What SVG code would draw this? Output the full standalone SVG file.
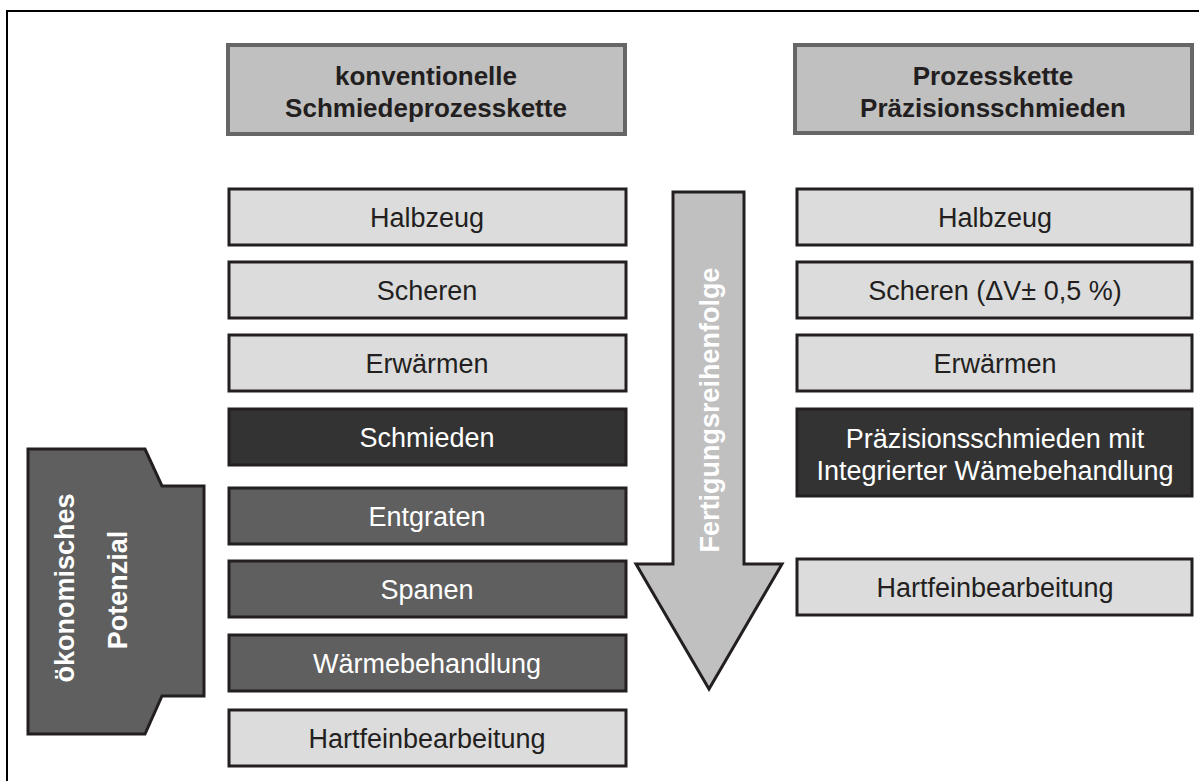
<svg xmlns="http://www.w3.org/2000/svg" width="1199" height="781" viewBox="0 0 1199 781">
<style>
text{font-family:"Liberation Sans",Arial,sans-serif;text-anchor:middle}
.hdr rect{fill:#c0c0c0;stroke:#666666;stroke-width:4}
.hdr text{font-size:26px;font-weight:bold;fill:#231f20}
.box rect{stroke:#231f20;stroke-width:3}
.light rect{fill:#dcdcdc}
.light text{fill:#231f20}
.dark rect{fill:#333333}
.mid rect{fill:#5f5f5f}
.dark text,.mid text{fill:#ffffff}
.box text{font-size:27px}
.vt{font-size:27px;font-weight:bold;fill:#ffffff}
</style>
<rect x="7" y="11" width="1205" height="790" fill="none" stroke="#000" stroke-width="2"/>
<g id="hdr-left" class="hdr"><rect x="228" y="45" width="397" height="89"/><text x="426" y="85">konventionelle</text><text x="426" y="117">Schmiedeprozesskette</text></g>
<g id="hdr-right" class="hdr"><rect x="795" y="45" width="397" height="88"/><text x="993" y="85">Prozesskette</text><text x="993" y="117">Präzisionsschmieden</text></g>
<g id="potential"><path d="M28,449 H145 L162,486 H204 V696 H162 L145,734 H28 Z" fill="#5f5f5f" stroke="#231f20" stroke-width="3"/>
<text class="vt" transform="translate(74,588) rotate(-90)">ökonomisches</text><text class="vt" transform="translate(127,590) rotate(-90)">Potenzial</text></g>
<g id="l1" class="box light"><rect x="229" y="189" width="397" height="56"/><text x="427" y="227">Halbzeug</text></g>
<g id="l2" class="box light"><rect x="229" y="262" width="397" height="56"/><text x="427" y="300">Scheren</text></g>
<g id="l3" class="box light"><rect x="229" y="335" width="397" height="56"/><text x="427" y="373">Erwärmen</text></g>
<g id="l4" class="box dark"><rect x="229" y="409" width="397" height="56"/><text x="427" y="447">Schmieden</text></g>
<g id="l5" class="box mid"><rect x="229" y="488" width="397" height="56"/><text x="427" y="526">Entgraten</text></g>
<g id="l6" class="box mid"><rect x="229" y="561" width="397" height="56"/><text x="427" y="599">Spanen</text></g>
<g id="l7" class="box mid"><rect x="229" y="635" width="397" height="56"/><text x="427" y="673">Wärmebehandlung</text></g>
<g id="l8" class="box light"><rect x="229" y="710" width="397" height="56"/><text x="427" y="748">Hartfeinbearbeitung</text></g>
<g id="r1" class="box light"><rect x="797" y="189" width="395" height="56"/><text x="995" y="227">Halbzeug</text></g>
<g id="r2" class="box light"><rect x="797" y="262" width="395" height="56"/><text x="995" y="300">Scheren (ΔV± 0,5 %)</text></g>
<g id="r3" class="box light"><rect x="797" y="335" width="395" height="56"/><text x="995" y="373">Erwärmen</text></g>
<g id="r4" class="box dark"><rect x="797" y="409" width="395" height="87"/><text x="995" y="448">Präzisionsschmieden mit</text><text x="995" y="480">Integrierter Wämebehandlung</text></g>
<g id="r5" class="box light"><rect x="797" y="559" width="395" height="56"/><text x="995" y="597">Hartfeinbearbeitung</text></g>
<g id="connectors"><path d="M673,192 H744 V564 H782 L709,689 L636,564 H673 Z" fill="#c0c0c0" stroke="#231f20" stroke-width="3"/>
<text class="vt" transform="translate(719,410) rotate(-90)">Fertigungsreihenfolge</text></g>
</svg>
